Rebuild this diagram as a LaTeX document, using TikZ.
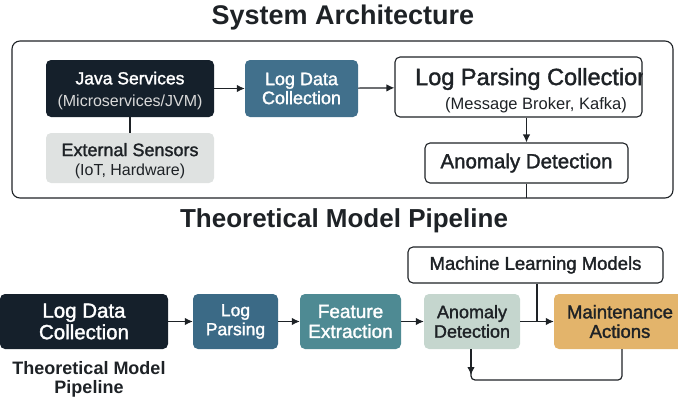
\documentclass[tikz,border=0pt]{standalone}
\usepackage{fontspec}
\setmainfont{Liberation Sans}
\newfontfamily\medfont[FakeBold=1.6]{Liberation Sans}
\usetikzlibrary{arrows.meta}
\definecolor{navy}{HTML}{15202B}
\definecolor{ink}{HTML}{1E2226}
\definecolor{steel}{HTML}{41708C}
\definecolor{steeldk}{HTML}{3B6A86}
\definecolor{teal}{HTML}{4E8A93}
\definecolor{sage}{HTML}{C5D6CE}
\definecolor{sensor}{HTML}{DFE2E1}
\definecolor{amber}{HTML}{E3B46B}
\newcommand\fsz[2]{\fontsize{#1}{#2}\selectfont}
\tikzset{
  x=1pt, y=-1pt,
  box/.style={rounded corners=5pt, align=center, inner sep=0pt},
  darkbox/.style={box, fill=navy, text=white},
  outlined/.style={box, draw=ink, line width=1.1pt, fill=white, text=ink},
  conn/.style={draw=ink, line width=1.2pt},
  arr/.style={conn, -{Latex[length=8pt,width=7.5pt]}},
  heading/.style={text=ink},
}
\begin{document}
\begin{tikzpicture}
\useasboundingbox (0,0) rectangle (678,399);

% ---- System Architecture ----
\node[heading, font=\fsz{27}{30}\bfseries] (t1) at (343,18) {System Architecture};
\draw[draw=ink, line width=1.1pt, rounded corners=8pt] (12,41) rectangle (673,198);

\node[darkbox, font=\fsz{16}{22}, minimum width=168pt, minimum height=57pt] (java) at (130,88.5)
  {{\medfont\fsz{17.5}{22}\rule{0pt}{17pt}Java Services}\\{\color{white!85!black}(Microservices/JVM)}};
\node[box, fill=steel, text=white, font=\medfont\fsz{18}{19}, minimum width=113pt, minimum height=57pt] (ldc) at (301.5,88.5)
  {Log Data\\Collection};
\node[outlined, minimum width=247pt, minimum height=60pt] (lpc) at (518.5,87) {};
\begin{scope}
  \clip (lpc.south west) rectangle (lpc.north east);
  \node[anchor=west, inner sep=0pt, font=\medfont\fsz{23.5}{25}, text=ink] (lpct) at (415,79) {Log Parsing Collection};
\end{scope}
\node[font=\fsz{16.5}{18}, text=ink] (lpcs) at (536,105) {(Message Broker, Kafka)};
\node[box, fill=sensor, text=ink, font=\fsz{16}{19.5}, minimum width=168pt, minimum height=50pt] (ext) at (130,158)
  {{\medfont\fsz{18}{19.5}\rule{0pt}{19pt}External Sensors}\\(IoT, Hardware)};
\node[outlined, font=\medfont\fsz{20.5}{22}, minimum width=203pt, minimum height=40pt] (ad1) at (526.5,163)
  {Anomaly Detection};
\coordinate (ad1out) at (526.5,198);

\draw[arr] (java) -- (ldc);
\draw[arr] (ldc) -- (lpc);
\draw[conn] (java.south) -- (ext.north);
\draw[arr] (lpc.south -| ad1.north) -- (ad1.north);
\draw[conn] (ad1.south) -- (ad1out);

% ---- Theoretical Model Pipeline ----
\node[heading, font=\fsz{26}{29}\bfseries] (t2) at (344,221) {Theoretical Model Pipeline};

\node[outlined, font=\medfont\fsz{18.5}{20}, minimum width=255pt, minimum height=36pt] (ml) at (535.5,265) {Machine Learning Models};
\node[darkbox, font=\medfont\fsz{20.5}{21.5}, minimum width=168pt, minimum height=55pt] (ldc2) at (84,321.5)
  {Log Data\\Collection};
\node[box, fill=steeldk, text=white, font=\medfont\fsz{17.5}{19}, minimum width=85pt, minimum height=55pt] (lp) at (235.5,321.5)
  {Log\\Parsing};
\node[box, fill=teal, text=white, font=\medfont\fsz{19}{20}, minimum width=101pt, minimum height=55pt] (fe) at (350.5,321.5)
  {Feature\\Extraction};
\node[box, fill=sage, text=ink, font=\medfont\fsz{18}{19.5}, minimum width=96pt, minimum height=55pt] (ad2) at (472,321.5)
  {Anomaly\\Detection};
\node[box, fill=amber, text=ink, font=\medfont\fsz{18.5}{19.5}, minimum width=132pt, minimum height=55pt] (ma) at (620,321.5)
  {Maintenance\\Actions};
\node[align=center, inner sep=0pt, font=\fsz{18}{19}\bfseries, text=ink] (cap) at (89,379)
  {Theoretical Model\\Pipeline};

\coordinate (join) at (537,321.5);
\coordinate (fbx) at (622,380);
\coordinate (fbl) at (471,380);
\coordinate (fbtip) at (471,375);

\draw[arr] (ldc2) -- (lp);
\draw[arr] (lp) -- (fe);
\draw[arr] (fe) -- (ad2);
\draw[arr] (ad2) -- (ma);
\draw[conn] (ml.south -| join) -- (join);
\draw[conn, rounded corners=4pt] (ma.south -| fbx) -- (fbx) -- (fbl) -- (ad2.south -| fbl);
\draw[arr] (ad2.south -| fbl) -- (fbtip);
\end{tikzpicture}
\end{document}
